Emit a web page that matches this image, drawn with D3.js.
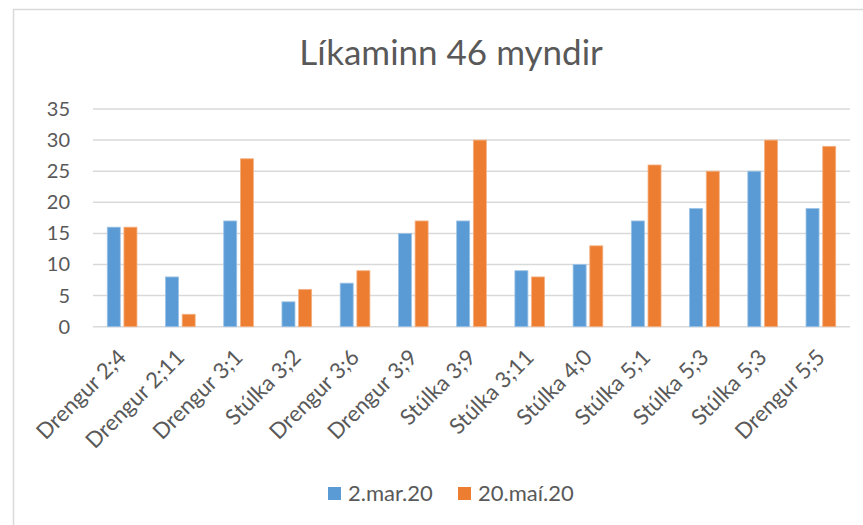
<!DOCTYPE html>
<html>
<head>
<meta charset="utf-8">
<script src="https://cdn.jsdelivr.net/npm/d3@7/dist/d3.min.js"></script>
<style>
  html, body { margin: 0; padding: 0; background: #fff; }
  svg { display: block; font-family: Lato, "Open Sans", sans-serif; }
</style>
</head>
<body>
<svg id="chart" width="863" height="525"></svg>
<script>
const title = "Líkaminn 46 myndir";
const categories = ["Drengur 2;4", "Drengur 2;11", "Drengur 3;1", "Stúlka 3;2", "Drengur 3;6", "Drengur 3;9", "Stúlka 3;9", "Stúlka 3;11", "Stúlka 4;0", "Stúlka 5;1", "Stúlka 5;3", "Stúlka 5;3", "Drengur 5;5"];
const seriesNames = ["2.mar.20", "20.maí.20"];
const seriesMar = [16, 8, 17, 4, 7, 15, 17, 9, 10, 17, 19, 25, 19];
const seriesMai = [16, 2, 27, 6, 9, 17, 30, 8, 13, 26, 25, 30, 29];
const yTicks = [0, 5, 10, 15, 20, 25, 30, 35];
const colors = ["#5b9bd5", "#ed7d31"];
const strokeColors = ["#9dc3e6", "#f4b183"];

const svg = d3.select("#chart");
const textColor = "#595959";

// chart frame (only top and left visible)
svg.append("rect").attr("x", 13.5).attr("y", 9.5).attr("width", 900).attr("height", 600)
  .attr("fill", "none").attr("stroke", "#d9d9d9").attr("stroke-width", 1.5);

const plotLeft = 93, plotRight = 850, plotTop = 109, plotBottom = 326.7;
const idx = categories.map((d, i) => i);
const x = d3.scaleBand().domain(idx).range([plotLeft, plotRight]).paddingInner(0).paddingOuter(0);
const step = x.step();
const x1 = d3.scaleBand().domain([0, 1]).range([step * 0.245, step * 0.755]).paddingInner(0.22);
const y = d3.scaleLinear().domain([0, 35]).range([plotBottom, plotTop]);

// gridlines
svg.append("g").selectAll("line").data(yTicks).join("line")
  .attr("x1", plotLeft).attr("x2", plotRight)
  .attr("y1", d => y(d)).attr("y2", d => y(d))
  .attr("stroke", "#d9d9d9").attr("stroke-width", 1.5);

// y axis labels
const yAxis = d3.axisLeft(y).tickValues(yTicks).tickSize(0).tickPadding(0);
const gy = svg.append("g").attr("transform", `translate(70,0)`).call(yAxis);
gy.select(".domain").remove();
gy.selectAll("text").attr("fill", textColor).style("font-size", "20px").style("font-family", "Lato");

// bars
const series = [seriesMar, seriesMai];
series.forEach((vals, s) => {
  svg.append("g").selectAll("rect").data(vals).join("rect")
    .attr("x", (d, i) => x(i) + x1(s))
    .attr("width", x1.bandwidth())
    .attr("y", d => y(d))
    .attr("height", d => y(0) - y(d))
    .attr("fill", colors[s])
    .attr("stroke", strokeColors[s]).attr("stroke-width", 0.8);
});

// x axis labels
const xAxis = d3.axisBottom(x).tickFormat(i => categories[i]).tickSize(0).tickPadding(0);
const gx = svg.append("g").attr("transform", `translate(0,${plotBottom})`).call(xAxis);
gx.select(".domain").remove();
gx.selectAll("text")
  .attr("fill", textColor).style("font-size", "22px").style("font-family", "Lato")
  .attr("text-anchor", "end")
  .attr("dy", 0).attr("y", 0)
  .attr("transform", "translate(5.5,32) rotate(-45)");

// title
svg.append("text").attr("x", 451).attr("y", 65).attr("text-anchor", "middle")
  .attr("fill", textColor).style("font-size", "35px").style("font-family", "Lato").text(title);

// legend
const legendX = [328, 458];
const lg = svg.append("g").selectAll("g").data(seriesNames).join("g")
  .attr("transform", (d, i) => `translate(${legendX[i]},487)`);
lg.append("rect").attr("width", 13).attr("height", 13).attr("fill", (d, i) => colors[i]);
lg.append("text").attr("x", 20).attr("y", 13.5).attr("fill", textColor)
  .style("font-size", "22px").style("font-family", "Lato").text(d => d);
</script>
</body>
</html>
